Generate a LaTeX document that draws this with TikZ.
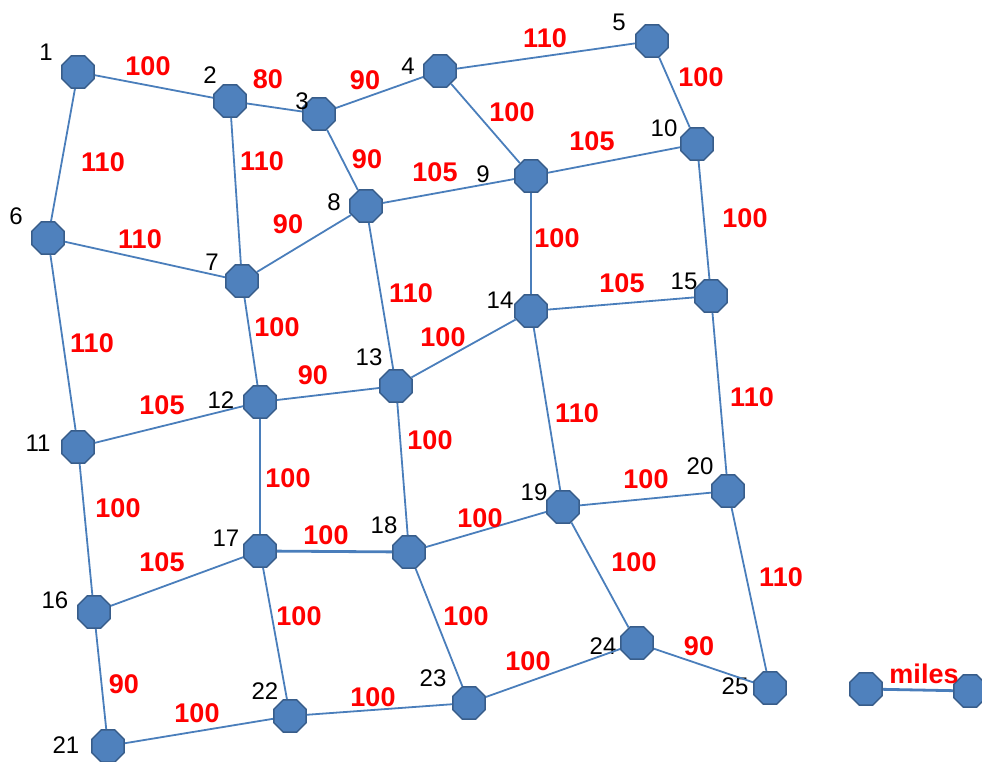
\documentclass[tikz,border=0pt]{standalone}
\usepackage{fontspec}
\setmainfont{Liberation Sans}
\usetikzlibrary{shapes.geometric}
\definecolor{junctionfill}{RGB}{79,129,189}
\definecolor{junctionedge}{RGB}{56,93,138}
\definecolor{roadline}{RGB}{74,126,187}
\tikzset{
  junction/.style={regular polygon,regular polygon sides=8,minimum size=35pt,
    inner sep=0pt,fill=junctionfill,draw=junctionedge,line width=1.5pt},
  road/.style={draw=roadline,line width=1.8pt},
  mainroad/.style={draw=roadline,line width=2.8pt},
  dist/.style={text=red,font=\fontsize{27}{32}\selectfont\bfseries,inner sep=0pt},
  numlab/.style={font=\fontsize{24}{28}\selectfont,inner sep=0pt}
}

\begin{document}
\begin{tikzpicture}[x=1pt,y=-1pt]
  \useasboundingbox (0,0) rectangle (982,762);
  % junctions
  \node[junction] (n1) at (78,72) {};     \node[numlab] (t1) at (46,52) {1};
  \node[junction] (n2) at (230,101) {};   \node[numlab] (t2) at (210,75) {2};
  \node[junction] (n3) at (319,114) {};   \node[numlab] (t3) at (302,101) {3};
  \node[junction] (n4) at (440,71) {};    \node[numlab] (t4) at (408,66) {4};
  \node[junction] (n5) at (652,41) {};    \node[numlab] (t5) at (619,22) {5};
  \node[junction] (n6) at (48,238) {};    \node[numlab] (t6) at (16,216) {6};
  \node[junction] (n7) at (242,281) {};   \node[numlab] (t7) at (212,262) {7};
  \node[junction] (n8) at (366,206) {};   \node[numlab] (t8) at (334,202) {8};
  \node[junction] (n9) at (531,176) {};   \node[numlab] (t9) at (483,174) {9};
  \node[junction] (n10) at (697,144) {};  \node[numlab] (t10) at (664,128) {10};
  \node[junction] (n11) at (78,447) {};   \node[numlab] (t11) at (38,443) {11};
  \node[junction] (n12) at (260,402) {};  \node[numlab] (t12) at (221,400) {12};
  \node[junction] (n13) at (396,386) {};  \node[numlab] (t13) at (369,357) {13};
  \node[junction] (n14) at (531,311) {};  \node[numlab] (t14) at (500,300) {14};
  \node[junction] (n15) at (711,296) {};  \node[numlab] (t15) at (684,281) {15};
  \node[junction] (n16) at (94,612) {};   \node[numlab] (t16) at (55,600) {16};
  \node[junction] (n17) at (260,551) {};  \node[numlab] (t17) at (226,538) {17};
  \node[junction] (n18) at (409,552) {};  \node[numlab] (t18) at (384,525) {18};
  \node[junction] (n19) at (563,507) {};  \node[numlab] (t19) at (534,492) {19};
  \node[junction] (n20) at (728,491) {};  \node[numlab] (t20) at (700,466) {20};
  \node[junction] (n21) at (108,746) {};  \node[numlab] (t21) at (66,745) {21};
  \node[junction] (n22) at (290,716) {};  \node[numlab] (t22) at (265,691) {22};
  \node[junction] (n23) at (469,703) {};  \node[numlab] (t23) at (433,678) {23};
  \node[junction] (n24) at (637,643) {};  \node[numlab] (t24) at (603,646) {24};
  \node[junction] (n25) at (770,688) {};  \node[numlab] (t25) at (735,686) {25};
  % roads
  \draw[road] (n1) -- (n2) node[dist] at (148,66) {100};
  \draw[road] (n2) -- (n3) node[dist] at (268,79) {80};
  \draw[road] (n1) -- (n6) node[dist] at (103,162) {110};
  \draw[road] (n2) -- (n7) node[dist] at (262,161) {110};
  \draw[road] (n3) -- (n4) node[dist] at (365,80) {90};
  \draw[road] (n4) -- (n5) node[dist] at (545,38) {110};
  \draw[road] (n4) -- (n9) node[dist] at (512,112) {100};
  \draw[road] (n3) -- (n8) node[dist] at (367,159) {90};
  \draw[road] (n8) -- (n9) node[dist] at (435,172) {105};
  \draw[road] (n9) -- (n10) node[dist] at (592,141) {105};
  \draw[road] (n5) -- (n10) node[dist] at (701,77) {100};
  \draw[road] (n6) -- (n7) node[dist] at (140,239) {110};
  \draw[road] (n7) -- (n8) node[dist] at (288,224) {90};
  \draw[mainroad] (n9) -- (n14) node[dist] at (557,238) {100};
  \draw[road] (n10) -- (n15) node[dist] at (745,218) {100};
  \draw[road] (n8) -- (n13) node[dist] at (411,293) {110};
  \draw[road] (n14) -- (n15) node[dist] at (622,283) {105};
  \draw[road] (n7) -- (n12) node[dist] at (277,327) {100};
  \draw[road] (n6) -- (n11) node[dist] at (92,343) {110};
  \draw[road] (n13) -- (n14) node[dist] at (443,337) {100};
  \draw[road] (n12) -- (n13) node[dist] at (313,375) {90};
  \draw[road] (n11) -- (n12) node[dist] at (162,405) {105};
  \draw[road] (n13) -- (n18) node[dist] at (430,440) {100};
  \draw[road] (n14) -- (n19) node[dist] at (577,413) {110};
  \draw[road] (n15) -- (n20) node[dist] at (752,397) {110};
  \draw[road] (n11) -- (n16) node[dist] at (118,508) {100};
  \draw[road] (n12) -- (n17) node[dist] at (288,478) {100};
  \draw[mainroad] (n17) -- (n18) node[dist] at (326,535) {100};
  \draw[road] (n18) -- (n19) node[dist] at (480,518) {100};
  \draw[road] (n19) -- (n20) node[dist] at (646,479) {100};
  \draw[road] (n16) -- (n17) node[dist] at (162,562) {105};
  \draw[road] (n17) -- (n22) node[dist] at (299,616) {100};
  \draw[road] (n18) -- (n23) node[dist] at (466,616) {100};
  \draw[road] (n19) -- (n24) node[dist] at (634,562) {100};
  \draw[road] (n20) -- (n25) node[dist] at (781,577) {110};
  \draw[road] (n16) -- (n21) node[dist] at (124,684) {90};
  \draw[road] (n21) -- (n22) node[dist] at (197,713) {100};
  \draw[road] (n22) -- (n23) node[dist] at (373,697) {100};
  \draw[road] (n23) -- (n24) node[dist] at (528,661) {100};
  \draw[road] (n24) -- (n25) node[dist] at (699,646) {90};
  % legend
  \node[junction] (k1) at (866,689) {};
  \node[junction] (k2) at (970,691) {};
  \draw[mainroad] (k1) -- (k2) node[dist] at (924,674) {miles};
\end{tikzpicture}
\end{document}
